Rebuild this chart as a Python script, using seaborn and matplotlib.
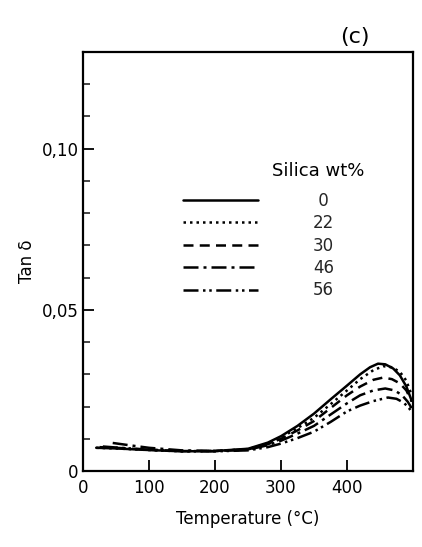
import numpy as np
import pandas as pd
import matplotlib
matplotlib.use("Agg")
import matplotlib.pyplot as plt
from matplotlib.lines import Line2D
from matplotlib.ticker import MultipleLocator
import seaborn as sns

sns.set_theme(style="white")
plt.rcParams['font.family'] = ['DejaVu Sans']

# ---- data ----
silica_labels = ["0", "22", "30", "46", "56"]

temp_0 = [20, 50, 100, 150, 200, 250, 280, 300, 325, 350, 375, 400, 420, 435, 447, 458, 470, 480, 490, 498]
tan_0 = [0.0072, 0.0070, 0.0065, 0.0061, 0.0062, 0.0069, 0.0088, 0.0108, 0.0140, 0.0178, 0.0222, 0.0265,
         0.0300, 0.0322, 0.0333, 0.0331, 0.0318, 0.0297, 0.0262, 0.0218]

temp_22 = [20, 50, 100, 150, 200, 250, 280, 300, 325, 350, 375, 400, 420, 440, 455, 468, 480, 490, 498]
tan_22 = [0.0072, 0.0070, 0.0065, 0.0061, 0.0062, 0.0068, 0.0085, 0.0104, 0.0133, 0.0165, 0.0207, 0.0250,
          0.0285, 0.0313, 0.0325, 0.0322, 0.0308, 0.0280, 0.0235]

temp_30 = [25, 50, 100, 150, 200, 250, 280, 300, 325, 350, 375, 400, 420, 440, 455, 468, 480, 490, 498]
tan_30 = [0.0074, 0.0072, 0.0066, 0.0062, 0.0062, 0.0067, 0.0083, 0.0100, 0.0126, 0.0155, 0.0195, 0.0235,
          0.0262, 0.0283, 0.0290, 0.0285, 0.0272, 0.0250, 0.0215]

temp_46 = [45, 70, 100, 150, 200, 250, 280, 300, 325, 350, 375, 400, 420, 440, 458, 472, 483, 492, 498]
tan_46 = [0.0087, 0.0080, 0.0072, 0.0064, 0.0062, 0.0066, 0.0080, 0.0094, 0.0116, 0.0140, 0.0175, 0.0210,
          0.0235, 0.0250, 0.0256, 0.0250, 0.0236, 0.0215, 0.0195]

temp_56 = [30, 50, 100, 150, 200, 250, 280, 300, 325, 350, 375, 400, 420, 440, 462, 475, 486, 494, 499]
tan_56 = [0.0076, 0.0073, 0.0066, 0.0062, 0.0061, 0.0064, 0.0074, 0.0085, 0.0102, 0.0122, 0.0152, 0.0185,
          0.0203, 0.0217, 0.0228, 0.0224, 0.0212, 0.0195, 0.0180]

x_ticks = [0, 100, 200, 300, 400]
y_ticks = [0, 0.05, 0.10]
y_tick_labels = ["0", "0,05", "0,10"]

series = [
    (silica_labels[0], temp_0, tan_0, None),
    (silica_labels[1], temp_22, tan_22, (1.0, 1.6)),
    (silica_labels[2], temp_30, tan_30, (4.0, 2.5)),
    (silica_labels[3], temp_46, tan_46, (6.0, 2.0, 1.2, 2.0)),
    (silica_labels[4], temp_56, tan_56, (6.0, 1.8, 1.0, 1.5, 1.0, 1.8)),
]

fig = plt.figure(figsize=(4.22, 5.47), dpi=100)
ax = fig.add_axes([83 / 422, 1 - 471 / 547, (413 - 83) / 422, (471 - 52) / 547])

handles = []
for lab, t, v, dash in series:
    df = pd.DataFrame({"T": t, "tan": v})
    sns.lineplot(data=df, x="T", y="tan", ax=ax, color="black", lw=1.8, sort=True)
    ln = ax.get_lines()[-1]
    ln.set_solid_capstyle("round")
    if dash is not None:
        ln.set_dashes(dash)
    h = Line2D([0], [0], color="black", lw=1.8)
    if dash is not None:
        h.set_dashes(dash)
    handles.append(h)

ax.set_xlim(0, 500)
ax.set_ylim(0, 0.13)
ax.set_xticks(x_ticks)
ax.set_xticklabels([str(x) for x in x_ticks])
ax.set_yticks(y_ticks)
ax.set_yticklabels(y_tick_labels)
ax.yaxis.set_minor_locator(MultipleLocator(0.01))
ax.tick_params(axis="both", which="major", direction="in", length=8, width=1.3,
               labelsize=12, colors="black", left=True, bottom=True)
ax.tick_params(axis="y", which="minor", direction="in", length=5, width=1.2, left=True)
ax.tick_params(axis="x", pad=6)
ax.tick_params(axis="y", pad=3)
for s in ax.spines.values():
    s.set_color("black")
    s.set_linewidth(1.6)

ax.set_xlabel("Temperature (°C)", fontsize=12, color="black", labelpad=9)
ax.set_ylabel("Tan δ", fontsize=12, color="black", labelpad=4)

fig.text(355 / 422, 1 - 37 / 547, "(c)", fontsize=16, ha="center", va="center", color="black")
fig.text(318 / 422, 1 - 171 / 547, "Silica wt%", fontsize=13, ha="center", va="center", color="black")

leg_labels = [" " + l if len(l) == 1 else l for l in silica_labels]
leg = ax.legend(handles, leg_labels, loc="upper left",
                bbox_to_anchor=(183 / 422, 1 - 192 / 547), bbox_transform=fig.transFigure,
                frameon=False, fontsize=12, handlelength=4.5, handletextpad=3.3,
                labelspacing=0.26, borderpad=0, borderaxespad=0)

fig.savefig("out.png", dpi=100)
